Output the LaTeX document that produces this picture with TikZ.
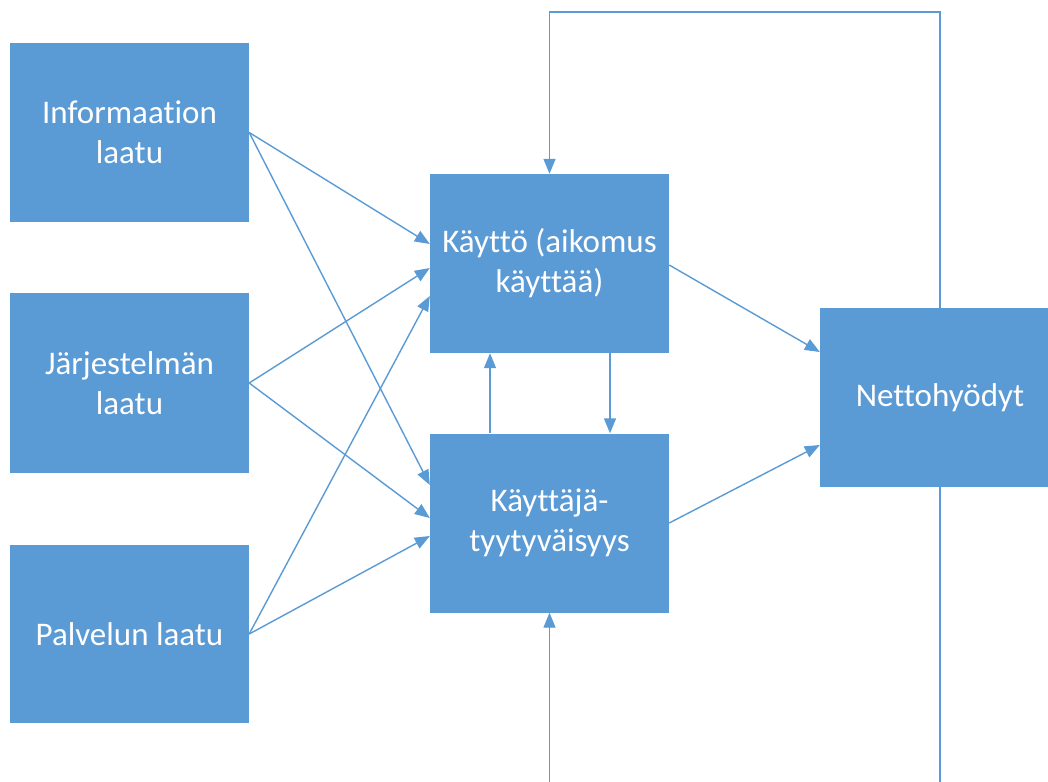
\documentclass[tikz,border=0pt]{standalone}
\usepackage{fontspec}
\setmainfont{Carlito}[Ligatures={NoCommon,NoContextual},RawFeature={-liga;-calt;-clig}]
\usetikzlibrary{arrows.meta}
\definecolor{boxblue}{HTML}{5B9BD5}
\definecolor{lineblue}{HTML}{5B9BD5}
\tikzset{
  box/.style={draw=none, fill=boxblue, text=white, inner sep=0pt, align=center,
    font=\fontsize{33}{40}\selectfont},
  conn/.style={draw=lineblue, line width=1.4pt, -{Triangle[length=15pt,width=12pt]}},
  plain/.style={draw=lineblue, line width=1.4pt}
}
\begin{document}
\begin{tikzpicture}[x=1pt,y=-1pt]
\clip (0,0) rectangle (1048,781);
\fill[white] (0,0) rectangle (1048,781);
\node[box, minimum width=239pt, minimum height=179pt] (info) at (129.5,132.5) {Informaation\\laatu};
\node[box, minimum width=239pt, minimum height=180pt] (jarj) at (129.5,383) {Järjestelmän\\laatu};
\node[box, minimum width=239pt, minimum height=178pt] (palv) at (129.5,634) {Palvelun laatu};
\node[box, minimum width=239pt, minimum height=179pt] (kaytto) at (549.5,263.5) {Käyttö (aikomus\\käyttää)};
\node[box, minimum width=239pt, minimum height=179pt] (tyyt) at (549.5,523) {Käyttäjä-\\tyytyväisyys};
\node[box, minimum width=240pt, minimum height=179pt] (netto) at (940,397.5) {Nettohyödyt};
% inputs
\draw[conn] (info.east) -- ([yshift=19.5pt]kaytto.west);
\draw[conn] (info.east) -- ([yshift=38pt]tyyt.west);
\draw[conn] (jarj.east) -- ([yshift=-4.5pt]kaytto.west);
\draw[conn] (jarj.east) -- ([yshift=5pt]tyyt.west);
\draw[conn] (palv.east) -- ([yshift=-32.5pt]kaytto.west);
\draw[conn] (palv.east) -- ([yshift=-13pt]tyyt.west);
% between middle boxes
\draw[conn] ([xshift=-59.5pt]tyyt.north) -- ([xshift=-59.5pt]kaytto.south);
\draw[conn] ([xshift=60.5pt]kaytto.south) -- ([xshift=60.5pt]tyyt.north);
% to net benefits
\draw[conn] ([yshift=-1.5pt]kaytto.east) -- ([yshift=45.5pt]netto.west);
\draw[conn] (tyyt.east) -- ([yshift=-47.5pt]netto.west);
% feedback loops
\coordinate (tr) at (940,12);
\coordinate (tl) at (549.5,12);
\coordinate (br) at (940,800);
\coordinate (bl) at (549.5,800);
\draw[conn] (netto.north) -- (tr) -- (tl) -- (kaytto.north);
\draw[conn] (netto.south) -- (br) -- (bl) -- (tyyt.south);
\end{tikzpicture}
\end{document}
